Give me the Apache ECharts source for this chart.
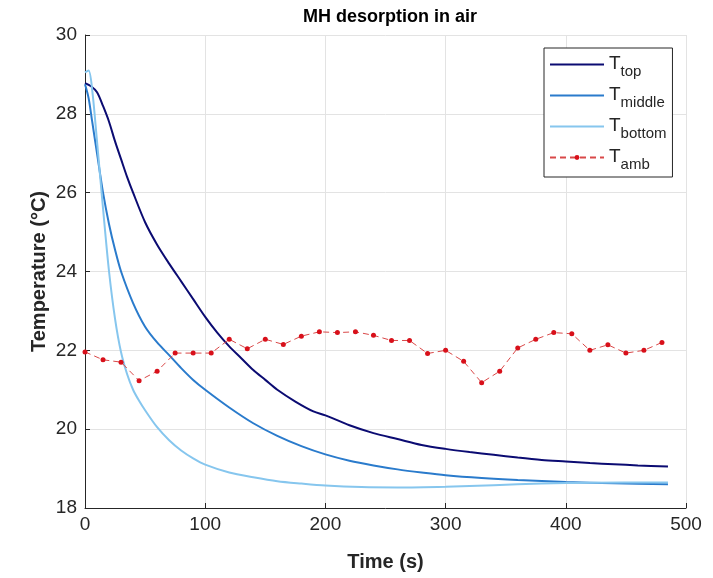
<!DOCTYPE html>
<html><head><meta charset="utf-8">
<script src="https://cdn.jsdelivr.net/npm/echarts@6/dist/echarts.min.js"></script>
<style>html,body{margin:0;padding:0;background:#fff}#c{width:713px;height:578px}</style>
</head><body><div id="c"></div>
<script>
var topT = [0,5,10,15,20,25,30,35,40,50,60,70,80,90,100,110,120,130,140,150,160,175,190,200,220,240,260,280,300,320,340,360,380,400,420,440,460,485];
var topV = [28.78,28.7,28.55,28.2,27.8,27.3,26.85,26.4,26.0,25.25,24.68,24.2,23.75,23.3,22.85,22.45,22.1,21.8,21.5,21.25,21.0,20.7,20.45,20.35,20.1,19.9,19.75,19.6,19.5,19.42,19.35,19.28,19.22,19.18,19.14,19.11,19.08,19.05];
var midT = [0,3,6,10,15,20,25,30,40,50,60,70,80,90,100,120,140,160,180,200,220,240,260,280,300,330,360,400,440,485];
var midV = [28.75,28.4,27.8,27.0,26.0,25.2,24.55,24.0,23.2,22.6,22.2,21.88,21.55,21.25,21.0,20.55,20.15,19.83,19.57,19.36,19.2,19.08,18.98,18.9,18.83,18.76,18.71,18.66,18.63,18.6];
var botT = [0,3,6,10,15,20,25,30,35,40,45,50,60,70,80,90,100,120,140,160,180,200,230,260,300,340,380,420,485];
var botV = [29.05,29.1,28.6,27.3,25.6,24.0,22.8,21.95,21.4,21.0,20.72,20.48,20.05,19.72,19.46,19.26,19.1,18.9,18.78,18.68,18.62,18.57,18.53,18.52,18.54,18.58,18.62,18.64,18.65];
var ambT = [0,15,30,45,60,75,90,105,120,135,150,165,180,195,210,225,240,255,270,285,300,315,330,345,360,375,390,405,420,435,450,465,480];
var ambV = [21.96,21.76,21.7,21.23,21.47,21.93,21.93,21.93,22.28,22.04,22.28,22.15,22.36,22.47,22.45,22.47,22.38,22.25,22.25,21.92,22.0,21.72,21.18,21.47,22.06,22.28,22.45,22.42,22.0,22.14,21.93,22.0,22.2];
var xTicks = [0,100,200,300,400,500];
var yTicks = [18,20,22,24,26,28,30];
var names = ['top','middle','bottom','amb'];

function pairs(t,v){return t.map(function(x,i){return [x,v[i]];});}
var ff = '"Liberation Sans", Arial, sans-serif';
var chart = echarts.init(document.getElementById('c'));
var txt = '#262626';
var noSym = {opacity:0};
chart.setOption({
  animation:false,
  title:{text:'MH desorption in air',left:385,textAlign:'center',top:3,
    textStyle:{fontFamily:ff,fontWeight:'bold',fontSize:18,color:'#000'}},
  grid:{left:85,right:27,top:35,bottom:70},
  xAxis:{type:'value',min:xTicks[0],max:xTicks[xTicks.length-1],interval:100,
    name:'Time (s)',nameLocation:'middle',nameGap:44,nameMoveOverlap:false,
    nameTextStyle:{fontFamily:ff,fontWeight:'bold',fontSize:20,color:txt},
    axisLine:{lineStyle:{color:txt,width:1}},
    axisTick:{inside:true,length:5,lineStyle:{color:txt}},
    axisLabel:{fontFamily:ff,fontSize:19,color:txt,margin:7},
    splitLine:{show:true,lineStyle:{color:'#e3e3e3',width:1}}},
  yAxis:{type:'value',min:yTicks[0],max:yTicks[yTicks.length-1],interval:2,
    name:'Temperature (°C)',nameLocation:'middle',nameGap:36,nameMoveOverlap:false,
    nameTextStyle:{fontFamily:ff,fontWeight:'bold',fontSize:20,color:txt},
    axisLine:{show:true,lineStyle:{color:txt,width:1}},
    axisTick:{show:true,inside:true,length:5,lineStyle:{color:txt}},
    axisLabel:{fontFamily:ff,fontSize:19,color:txt,margin:8},
    splitLine:{show:true,lineStyle:{color:'#e3e3e3',width:1}}},
  legend:{orient:'vertical',left:544,top:48,padding:[6,6,5,5],
    backgroundColor:'#fff',borderColor:txt,borderWidth:1,borderRadius:0,
    itemWidth:54,itemHeight:6,itemGap:6,
    data:[{name:'top',itemStyle:noSym},{name:'middle',itemStyle:noSym},{name:'bottom',itemStyle:noSym},{name:'amb'}],
    formatter:function(n){return '{a|T}{b|'+n+'}';},
    textStyle:{fontFamily:ff,color:txt,
      rich:{a:{fontSize:19,fontFamily:ff,color:txt,padding:[0,0,2,0]},
            b:{fontSize:15,fontFamily:ff,color:txt,padding:[14,0,0,0]}}}},
  series:[
    {name:'top',type:'line',data:pairs(topT,topV),showSymbol:false,symbol:'none',smooth:0.3,
      lineStyle:{color:'#0b0b72',width:2},itemStyle:{color:'#0b0b72'}},
    {name:'middle',type:'line',data:pairs(midT,midV),showSymbol:false,symbol:'none',smooth:0.3,
      lineStyle:{color:'#2a7bcc',width:2},itemStyle:{color:'#2a7bcc'}},
    {name:'bottom',type:'line',data:pairs(botT,botV),showSymbol:false,symbol:'none',smooth:0.3,
      lineStyle:{color:'#86c6ee',width:2},itemStyle:{color:'#86c6ee'}},
    {name:'amb',type:'line',data:pairs(ambT,ambV),symbol:'circle',symbolSize:5,
      lineStyle:{color:'#d94848',width:1,type:[6,4]},itemStyle:{color:'#d8101a'}}
  ]
});
</script></body></html>
